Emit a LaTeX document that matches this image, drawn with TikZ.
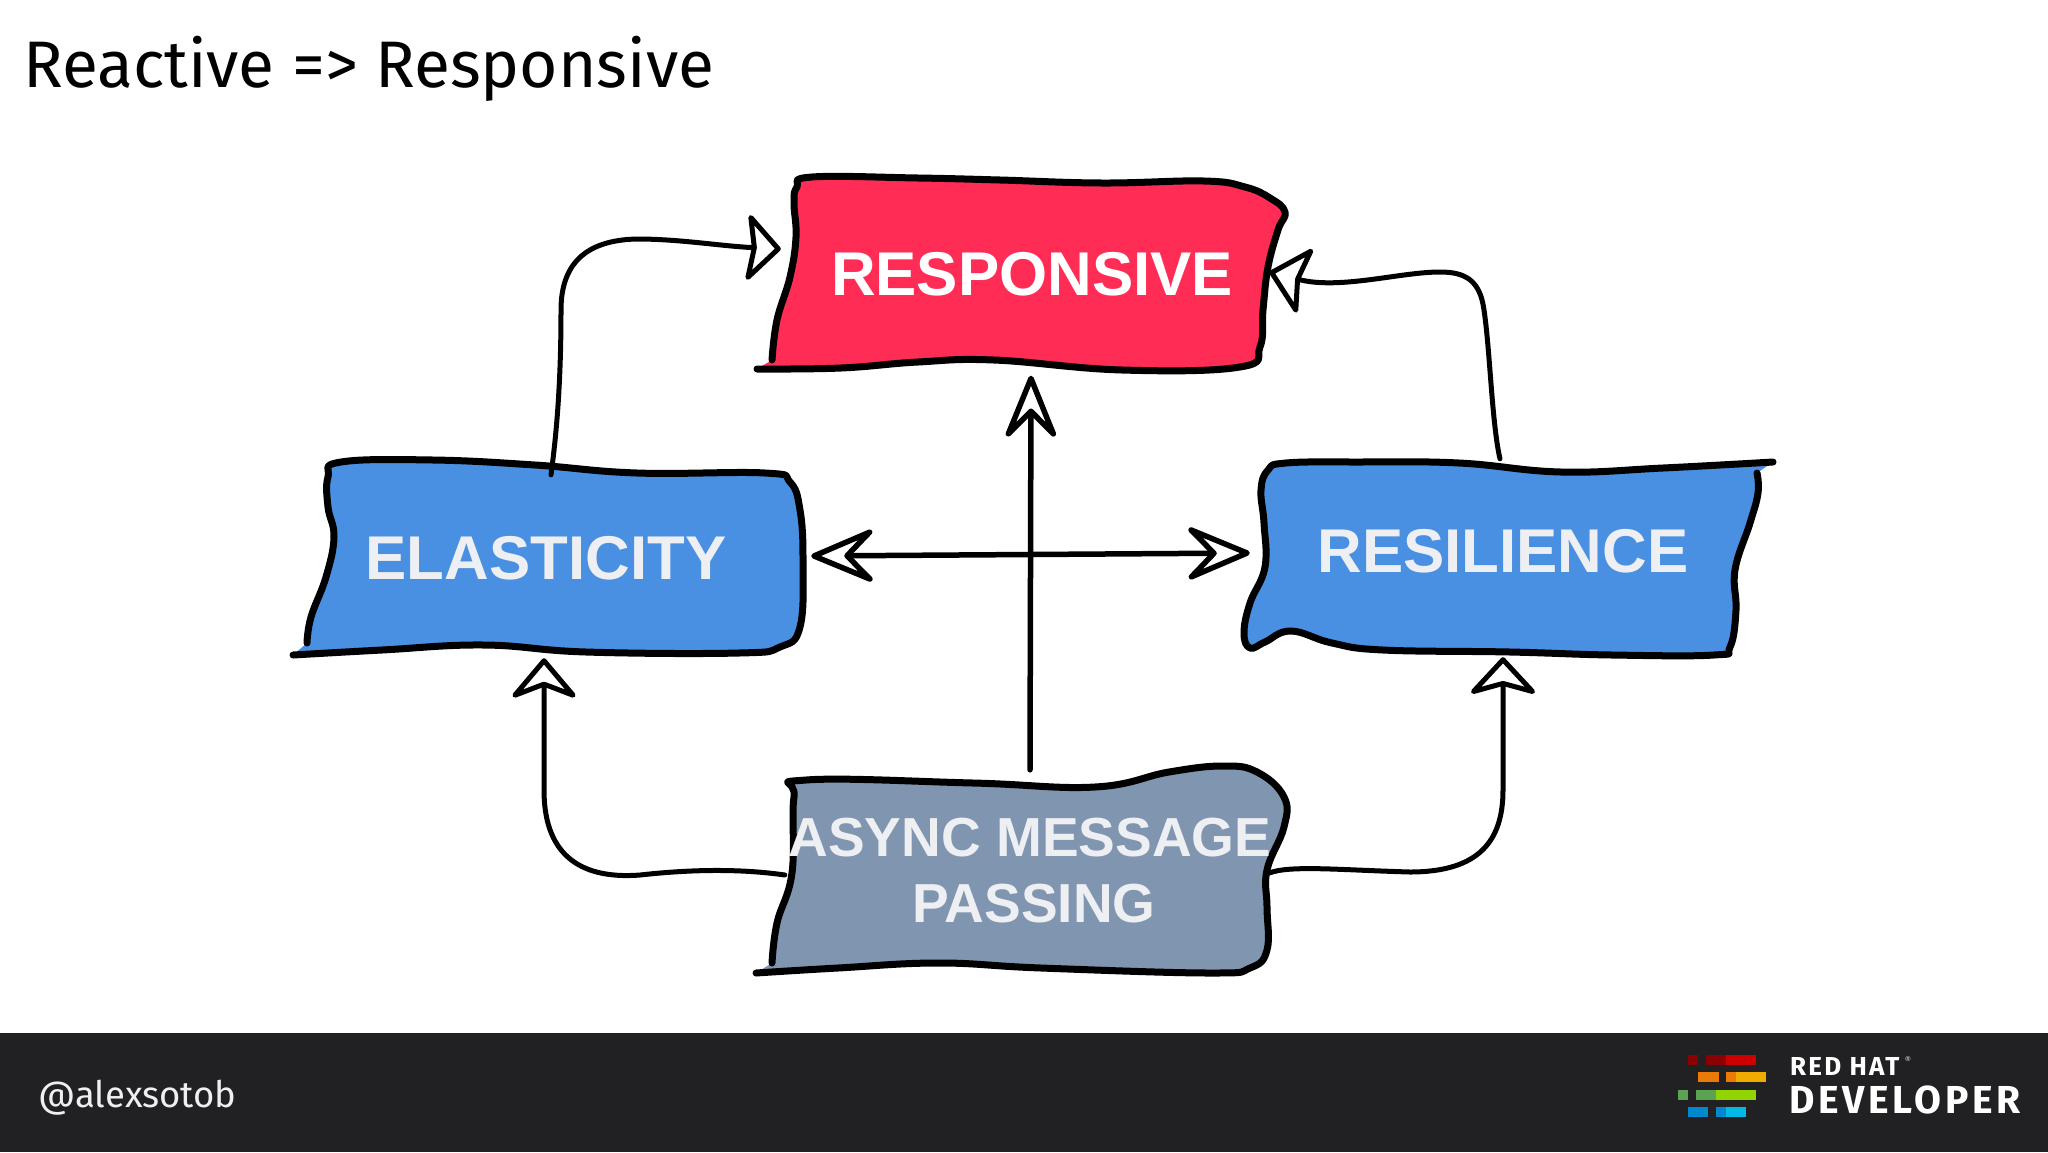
\documentclass[tikz,border=0pt]{standalone}
\usepackage{fontspec}
\setmainfont{Liberation Sans}
\newfontfamily\slidefont{Fira Sans}
\usetikzlibrary{arrows.meta}

\definecolor{hotred}{HTML}{FF2D55}
\definecolor{skyblue}{HTML}{4A90E2}
\definecolor{slateblue}{HTML}{7F95B0}
\definecolor{labelwhite}{HTML}{EEEFF2}
\definecolor{footerdark}{HTML}{212124}

\tikzset{
  sketchbox/.style={draw=black,line width=7pt,line join=round,line cap=round},
  boxlabel/.style={inner sep=0pt,align=center,text=labelwhite},
  flowline/.style={draw=black,line width=5pt,line cap=round,line join=round},
  flowtip/.style n args={3}{-{Stealth[open,round,length=#1,width=#2,inset=#3]}},
  slidetext/.style={inner sep=0pt,anchor=west}
}

\begin{document}
\begin{tikzpicture}[x=1pt,y=-1pt]
  \useasboundingbox (0,0) rectangle (2048,1152);

  % footer band
  \fill[footerdark] (0,1033) rectangle (2048,1152);

  % hand drawn boxes
  \draw[sketchbox,fill=hotred] plot[smooth,tension=0.7] coordinates {
    (757,369) (841,368) (918,362) (994,360) (1122,370) (1240,367) (1260,347) (1263,310)
    (1268,267) (1278,230) (1285,212) (1270,198) (1245,187) (1204,181) (1102,183) (1000,180)
    (918,178) (812,177) (797,187) (794,203) (796,237) (790,277) (777,320) (772,360)};
  \draw[sketchbox,fill=skyblue] plot[smooth,tension=0.7] coordinates {
    (293,655) (382,650) (484,645) (586,652) (739,653) (780,647) (800,627) (803,560)
    (800,510) (790,482) (765,473) (637,473) (535,465) (433,460) (341,462) (328,477)
    (328,507) (334,537) (326,577) (311,617) (307,643)};
  \draw[sketchbox,fill=skyblue] plot[smooth,tension=0.7] coordinates {
    (1773,462) (1663,468) (1561,472) (1459,463) (1357,462) (1286,463) (1268,470) (1261,490)
    (1264,523) (1265,567) (1250,603) (1244,633) (1250,648) (1265,642) (1291,631) (1332,643)
    (1383,650) (1510,652) (1612,655) (1714,655) (1730,647) (1736,610) (1735,570) (1750,523)
    (1758,493) (1757,473)};
  \draw[sketchbox,fill=slateblue] plot[smooth,tension=0.7] coordinates {
    (756,973) (838,968) (939,963) (1041,968) (1210,973) (1250,968) (1267,950) (1267,907)
    (1267,870) (1284,827) (1284,797) (1257,772) (1223,766) (1169,772) (1095,787) (973,783)
    (806,780) (794,797) (792,873) (777,923) (772,963)};

  % labels
  \node[boxlabel,text=white,minimum width=474pt,minimum height=189pt,
    font=\bfseries\fontsize{61.8}{70}\selectfont] (responsive) at (1032,274) {RESPONSIVE};
  \node[boxlabel,minimum width=514pt,minimum height=186pt,
    font=\bfseries\fontsize{61.8}{70}\selectfont] (elasticity) at (546,558) {ELASTICITY};
  \node[boxlabel,minimum width=496pt,minimum height=192pt,
    font=\bfseries\fontsize{61.8}{70}\selectfont] (resilience) at (1503,551) {RESILIENCE};
  \node[boxlabel,minimum width=490pt,minimum height=202pt,
    font=\bfseries\fontsize{55}{66}\selectfont] (async) at (1030,871) {ASYNC MESSAGE\\\hspace*{8pt}PASSING};

  % connectors
  \draw[flowline,flowtip={36pt}{74pt}{6pt}] ([xshift=5pt,yshift=-10pt]elasticity.north)
    .. controls (557,430) and (561,380) .. (561,310)
    .. controls (561,260) and (590,240) .. (637,239)
    .. controls (680,239) and (720,246) .. ([xshift=-14pt,yshift=25pt]responsive.west);
  \draw[flowline,flowtip={40pt}{74pt}{7pt}] ([xshift=-3pt,yshift=-4pt]resilience.north)
    .. controls (1492,425) and (1490,350) .. (1484,310)
    .. controls (1480,280) and (1465,272) .. (1440,272)
    .. controls (1400,272) and (1340,290) .. ([yshift=2pt]responsive.east);
  \draw[flowline,line width=5.5pt,flowtip={74pt}{60pt}{30pt}] (async.north)
    -- ([xshift=-1pt,yshift=-7pt]responsive.south);
  \draw[flowline,line width=5.5pt,{Stealth[open,round,length=74pt,width=62pt,inset=30pt]}-{Stealth[open,round,length=74pt,width=62pt,inset=30pt]}]
    ([xshift=8pt,yshift=2pt]elasticity.east) -- ([xshift=-5pt,yshift=-2pt]resilience.west);
  \draw[flowline,flowtip={44pt}{74pt}{14pt}] ([yshift=-4pt]async.west)
    .. controls (750,870) and (703,868) .. (640,875)
    .. controls (575,880) and (544,850) .. (544,790)
    -- ([xshift=-2pt,yshift=-7pt]elasticity.south);
  \draw[flowline,flowtip={40pt}{74pt}{10pt}] ([xshift=-6pt,yshift=-2pt]async.east)
    .. controls (1290,865) and (1340,870) .. (1410,872)
    .. controls (1480,872) and (1503,840) .. (1503,790)
    -- ([yshift=-10pt]resilience.south);

  % title and footer text
  \node[slidetext] (title) at (23,69) {\slidefont\fontsize{65.8}{76}\selectfont Reactive => Responsive};
  \node[slidetext,text=labelwhite] (handle) at (38,1098) {\slidefont\fontsize{36.5}{42}\selectfont @alexsotob};

  % logo bars
  \foreach \xa/\xb/\ya/\barcolor in {
    1688.3/1698.3/1055/8B0000,1705.7/1725.7/1055/8B0000,1725.7/1756/1055/CC0000,
    1698.3/1718.7/1072.3/EC7A08,1725.7/1736/1072.3/EC7A08,1736/1766/1072.3/F0AB00,
    1678.3/1688.3/1090/5BA352,1695.7/1715.7/1090/5BA352,1715.7/1756/1090/92D400,
    1688.3/1708.3/1107.3/0088CE,1715.7/1725.7/1107.3/0088CE,1725.7/1746/1107.3/00B9E4} {
    \definecolor{barfill}{HTML}{\barcolor}
    \fill[barfill] (\xa,\ya) rectangle (\xb,\ya+10);
  }
  \node[slidetext,text=white] (redhat) at (1790,1066)
    {\slidefont\addfontfeatures{LetterSpace=8.5}\bfseries\fontsize{26}{30}\selectfont RED HAT};
  \node[inner sep=0pt,text=white] (regmark) at (1908,1059) {\fontsize{7}{8}\selectfont ®};
  \node[slidetext,text=white] (developer) at (1789,1100)
    {\slidefont\addfontfeatures{LetterSpace=9.5}\bfseries\fontsize{39}{44}\selectfont DEVELOPER};
\end{tikzpicture}
\end{document}
